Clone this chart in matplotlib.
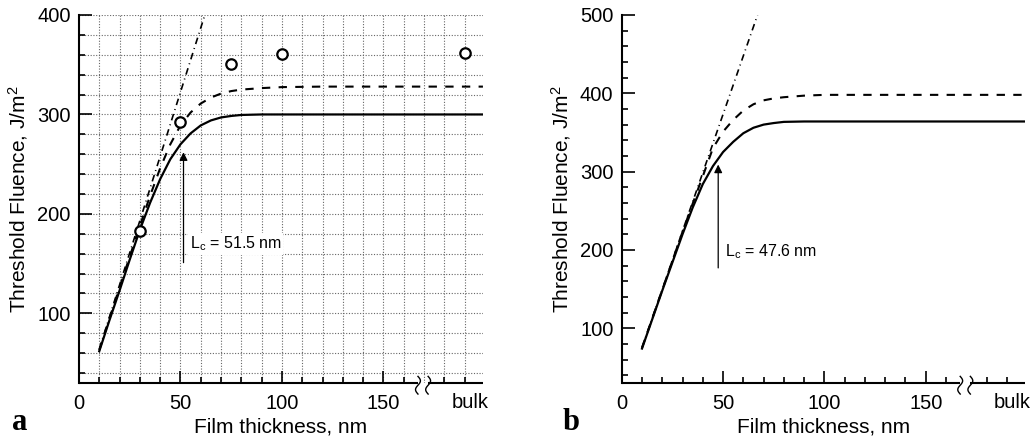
import matplotlib
matplotlib.use("Agg")
import matplotlib.pyplot as plt
import matplotlib.transforms as mtransforms
import numpy as np

plt.rcParams['font.family'] = ['Liberation Sans', 'DejaVu Sans']
plt.rcParams['mathtext.fontset'] = 'custom'
plt.rcParams['mathtext.rm'] = 'Liberation Sans'
plt.rcParams['mathtext.it'] = 'Liberation Sans'

# ---- panel a data (film thickness in nm, fluence in J/m^2) ----
a_curve_L = [10, 15, 20, 25, 30, 35, 40, 45, 50, 55, 60, 65, 70, 75, 80, 90, 100, 120, 199]
a_solid = [62, 93, 123, 154, 184, 211, 235, 255, 270, 281, 289, 294, 297, 298.5, 299.5, 300, 300, 300, 300]
a_dashed = [63, 95, 126, 157, 188, 218, 246, 270, 289, 302, 311, 317, 321, 323.5, 325, 326.5, 327.5, 328, 328]
a_line_L = [10, 62]
a_line_F = [64, 400]
a_meas_L = [30, 50, 75, 100, 190]
a_meas_F = [183, 292, 351, 361, 362]
a_Lc = 51.5
a_arrow_F = [151, 262]

# ---- panel b data ----
b_curve_L = [10, 15, 20, 25, 30, 35, 40, 45, 50, 55, 60, 65, 70, 75, 80, 90, 100, 120, 199]
b_solid = [74, 111, 148, 184, 220, 254, 284, 307, 325, 338, 349, 356, 360, 362, 363.5, 364, 364, 364, 364]
b_dashed = [75, 112, 149, 186, 223, 259, 294, 330, 351, 366, 378, 386, 391, 393.5, 395, 397, 398, 398, 398]
b_line_L = [10, 67]
b_line_F = [75, 500]
b_Lc = 47.6
b_arrow_F = [177, 309]

x_major = [0, 50, 100, 150]
x_minor = [10, 20, 30, 40, 60, 70, 80, 90, 110, 120, 130, 140, 160, 180, 190]
bulk_pos = 192.5
break_pos = [167, 172]

fig = plt.figure(figsize=(10.35, 4.41), dpi=100)
ax_a = fig.add_axes([0.0763, 0.1315, 0.3903, 0.8345])
ax_b = fig.add_axes([0.6007, 0.1315, 0.3897, 0.8345])


def style_axes(ax, ymin, ymax, yticks):
    ax.set_xlim(0, 199)
    ax.set_ylim(ymin, ymax)
    ax.spines['top'].set_visible(False)
    ax.spines['right'].set_visible(False)
    ax.spines['bottom'].set_visible(False)
    ax.spines['left'].set_linewidth(1.5)
    ax.set_xticks(x_major)
    ax.set_xticks(x_minor, minor=True)
    ax.set_yticks(yticks)
    ax.set_yticks(np.arange(40, ymax + 1, 20), minor=True)
    ax.tick_params(which='both', direction='in', width=1.2, labelsize=14.5)
    ax.tick_params(axis='x', pad=8)
    ax.tick_params(axis='y', pad=6)
    ax.tick_params(which='major', length=9)
    ax.tick_params(which='minor', length=4)
    tr = mtransforms.blended_transform_factory(ax.transData, ax.transAxes)
    ax.text(bulk_pos, -0.026, 'bulk', transform=tr, ha='center', va='top', fontsize=14.5)
    # broken bottom axis
    ax.plot([0, break_pos[0]], [0, 0], color='black', lw=1.5, transform=tr, clip_on=False, solid_capstyle='butt')
    ax.plot([break_pos[1], 199], [0, 0], color='black', lw=1.5, transform=tr, clip_on=False, solid_capstyle='butt')
    s = np.linspace(-1, 1, 40)
    for xb in break_pos:
        ax.plot(xb + 1.2 * np.sin(np.pi * s), -0.006 + 0.024 * s, color='black', lw=1.0,
                transform=tr, clip_on=False)
    ax.set_xlabel('Film thickness, nm', fontsize=15, labelpad=3)
    ax.set_ylabel('Threshold Fluence, J/m$^2$', fontsize=15, labelpad=5)


def draw_curves(ax, L, solid, dashed, line_L, line_F):
    ax.plot(L, solid, color='black', lw=1.6, zorder=4)
    ax.plot(L, dashed, color='black', lw=1.5, dashes=(4, 4), zorder=4)
    ax.plot(line_L, line_F, color='black', lw=1.2, dashes=(4, 2.5, 0.6, 2.5), zorder=4)


# panel a
style_axes(ax_a, 30, 400, [100, 200, 300, 400])
for gx in range(10, 200, 10):
    ax_a.axvline(gx, color='#666666', lw=0.8, ls=(0, (1, 1.5)), zorder=1)
for gy in range(40, 401, 20):
    ax_a.axhline(gy, color='#666666', lw=0.8, ls=(0, (1, 1.5)), zorder=1)
draw_curves(ax_a, a_curve_L, a_solid, a_dashed, a_line_L, a_line_F)
ax_a.plot(a_meas_L, a_meas_F, 'o', ms=7.5, mfc='white', mec='black', mew=1.6, zorder=5, clip_on=False)
ax_a.annotate('', xy=(a_Lc, a_arrow_F[1]), xytext=(a_Lc, a_arrow_F[0]),
              arrowprops=dict(arrowstyle='-|>', color='black', lw=0.9, mutation_scale=12, shrinkA=0, shrinkB=0))
ax_a.text(a_Lc + 3, 170, 'L$_\\mathrm{c}$ = 51.5 nm', fontsize=11.5, va='center', ha='left',
          bbox=dict(facecolor='white', edgecolor='none', pad=1))
fig.text(0.012, 0.025, 'a', fontsize=22, fontweight='bold', family='Liberation Serif')

# panel b
style_axes(ax_b, 30, 500, [100, 200, 300, 400, 500])
draw_curves(ax_b, b_curve_L, b_solid, b_dashed, b_line_L, b_line_F)
ax_b.annotate('', xy=(b_Lc, b_arrow_F[1]), xytext=(b_Lc, b_arrow_F[0]),
              arrowprops=dict(arrowstyle='-|>', color='black', lw=0.9, mutation_scale=12, shrinkA=0, shrinkB=0))
ax_b.text(b_Lc + 3.5, 198, 'L$_\\mathrm{c}$ = 47.6 nm', fontsize=11.5, va='center', ha='left')
fig.text(0.544, 0.025, 'b', fontsize=22, fontweight='bold', family='Liberation Serif')

fig.savefig('out.png', dpi=100)
